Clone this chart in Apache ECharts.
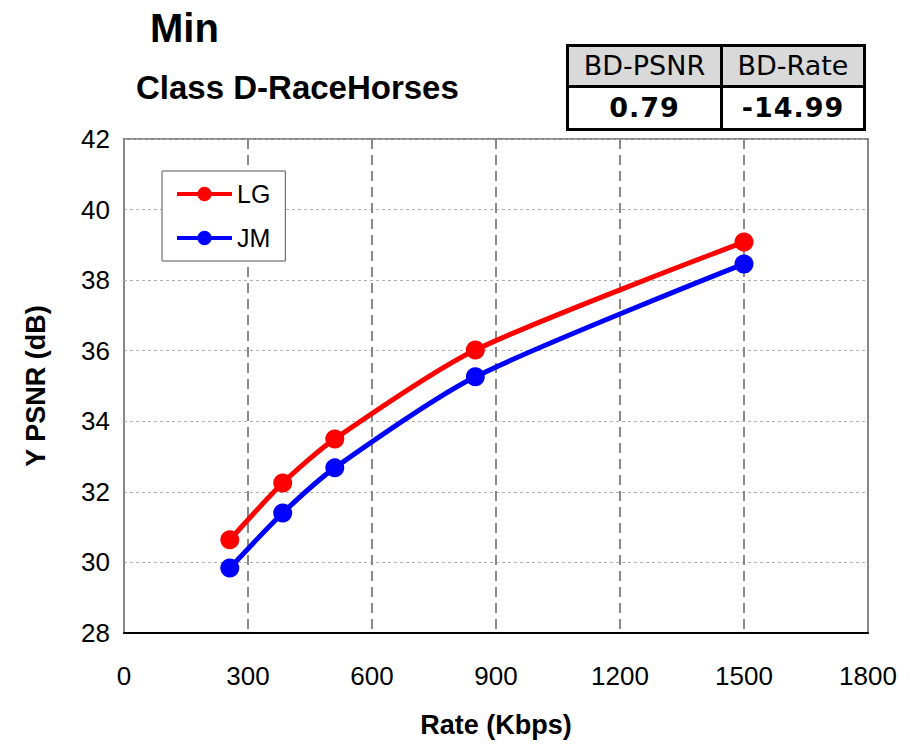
<!DOCTYPE html>
<html>
<head>
<meta charset="utf-8">
<script src="https://cdn.jsdelivr.net/npm/echarts@6/dist/echarts.min.js"></script>
<style>
  html, body { margin: 0; padding: 0; background: #fff; }
  #chart { width: 915px; height: 744px; }
  #bd {
    position: absolute; left: 566px; top: 44px;
    border-collapse: collapse; font-family: "DejaVu Sans", sans-serif;
    font-size: 27px; color: #000;
  }
  #bd td { border: 3px solid #000; text-align: center; padding: 0; line-height: 38px; }
  #bd tr.head td { background: #d9d9d9; border-bottom-width: 2px; }
  #bd tr.vals td { font-weight: bold; line-height: 40px; letter-spacing: 1px; }
</style>
</head>
<body>
<div id="chart"></div>
<table id="bd">
  <tr class="head"><td style="width:151px">BD-PSNR</td><td style="width:140px">BD-Rate</td></tr>
  <tr class="vals"><td>0.79</td><td>-14.99</td></tr>
</table>
<script>
(function() {
  var rates = [256, 384, 510, 850, 1500];
  var lgPsnr = [30.64, 32.25, 33.50, 36.02, 39.08];
  var jmPsnr = [29.84, 31.40, 32.68, 35.26, 38.46];

  function pairs(xs, ys) {
    return xs.map(function(x, i) { return [x, ys[i]]; });
  }

  var chart = echarts.init(document.getElementById('chart'), null, { renderer: 'svg' });
  var font = '"Liberation Sans", Arial, sans-serif';
  chart.setOption({
    animation: false,
    textStyle: { fontFamily: font },
    title: [
      { text: 'Min', left: 145, top: 3, textStyle: { fontSize: 40, fontWeight: 'bold', color: '#000', fontFamily: font } },
      { text: 'Class D-RaceHorses', left: 131, top: 66, textStyle: { fontSize: 33, fontWeight: 'bold', color: '#000', fontFamily: font } }
    ],
    legend: {
      orient: 'vertical',
      left: 162, top: 171,
      padding: [10, 15, 10, 13],
      itemGap: 18,
      itemWidth: 55, itemHeight: 18,
      borderColor: '#555', borderWidth: 1,
      backgroundColor: '#fff',
      lineStyle: { width: 4 },
      textStyle: { fontSize: 25, lineHeight: 26, color: '#000', fontFamily: font },
      data: ['LG', 'JM']
    },
    grid: { left: 124, right: 47, top: 139, bottom: 111, show: true, borderColor: '#888', borderWidth: 2 },
    xAxis: {
      type: 'value', min: 0, max: 1800, interval: 300,
      name: 'Rate (Kbps)', nameLocation: 'middle', nameGap: 78,
      nameTextStyle: { fontSize: 27, fontWeight: 'bold', color: '#000' },
      axisLine: { show: true, lineStyle: { color: '#000', width: 2 } },
      axisTick: { show: false },
      axisLabel: { fontSize: 26, color: '#000', margin: 30, formatter: function(v) { return String(v); } },
      splitLine: { show: true, lineStyle: { color: '#888', width: 2, type: [10, 6] } }
    },
    yAxis: {
      type: 'value', min: 28, max: 42, interval: 2,
      name: 'Y PSNR (dB)', nameLocation: 'middle', nameGap: 75,
      nameTextStyle: { fontSize: 27, fontWeight: 'bold', color: '#000' },
      axisLine: { show: false },
      axisTick: { show: false },
      axisLabel: { fontSize: 26, color: '#000', margin: 14 },
      splitLine: { show: true, lineStyle: { color: '#b0b0b0', width: 1, type: [3, 3] } }
    },
    series: [
      {
        name: 'LG', type: 'line', data: pairs(rates, lgPsnr),
        smooth: 0.25, symbol: 'circle', symbolSize: 19,
        lineStyle: { color: '#ff0000', width: 5 }, itemStyle: { color: '#ff0000' }
      },
      {
        name: 'JM', type: 'line', data: pairs(rates, jmPsnr),
        smooth: 0.25, symbol: 'circle', symbolSize: 19,
        lineStyle: { color: '#0000ff', width: 5 }, itemStyle: { color: '#0000ff' }
      }
    ]
  });
  window.addEventListener('resize', function() { chart.resize(); });
})();
</script>
</body>
</html>
